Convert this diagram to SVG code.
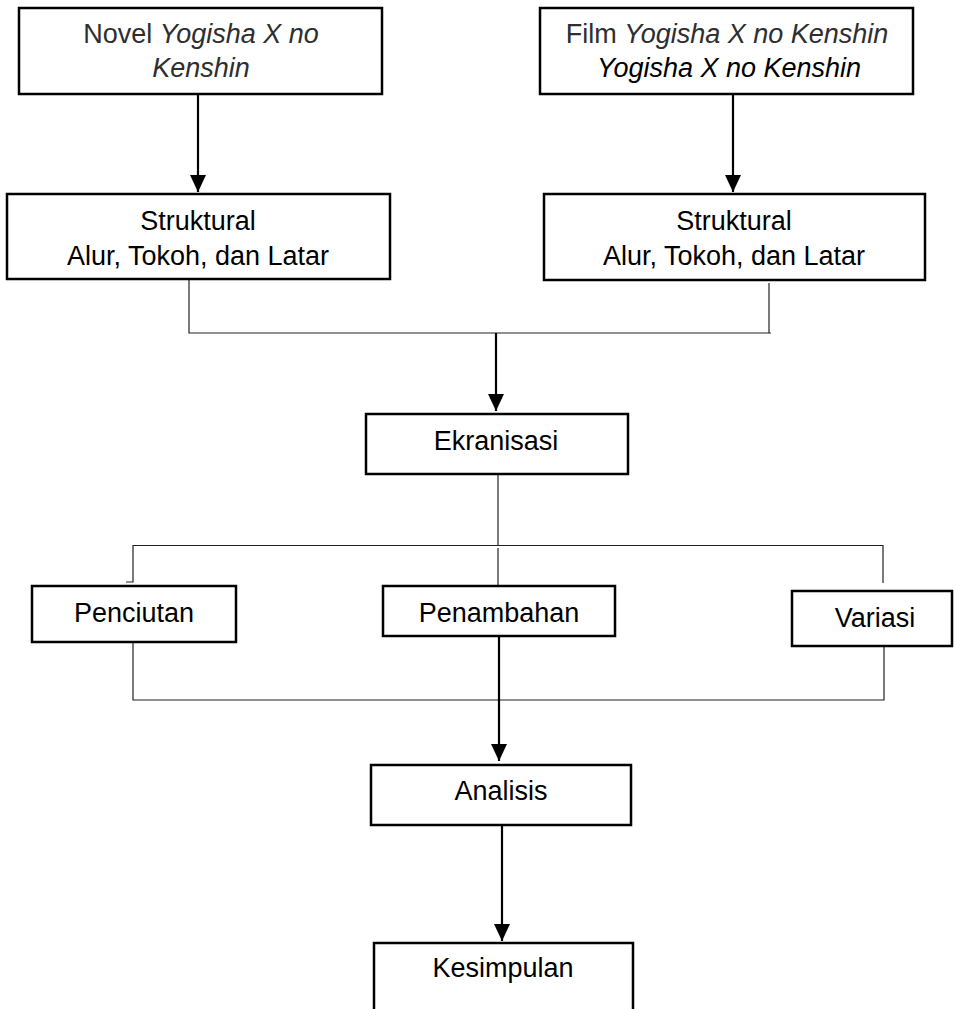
<svg xmlns="http://www.w3.org/2000/svg" width="954" height="1009" viewBox="0 0 954 1009">
<style>
.box{fill:#fff;stroke:#000;stroke-width:2.5}
.t{font-family:"Liberation Sans",Arial,sans-serif;font-size:27px;fill:#000;text-anchor:middle}
.g{fill:#2e2e2e}
.i{font-style:italic}
.thin{fill:none;stroke:#222;stroke-width:1.2}
.thick{fill:none;stroke:#000;stroke-width:2.2}
</style>
<defs>
<marker id="ah" markerUnits="userSpaceOnUse" markerWidth="17" markerHeight="16" refX="17" refY="8" orient="auto">
<path d="M0,0 L17,8 L0,16 z" fill="#000"/>
</marker>
</defs>
<rect width="954" height="1009" fill="#fff"/>
<g id="connectors">
<line class="thick" x1="198" y1="94" x2="198" y2="192" marker-end="url(#ah)"/>
<line class="thick" x1="733" y1="94" x2="733" y2="192" marker-end="url(#ah)"/>
<polyline class="thin" points="189,280 189,333 771,333"/>
<line class="thin" x1="769" y1="283" x2="769" y2="333"/>
<line class="thick" x1="496" y1="333" x2="496" y2="411" marker-end="url(#ah)"/>
<line class="thin" x1="498" y1="474" x2="498" y2="545"/>
<polyline class="thin" points="126,582 133,582 133,545.5 883,545.5 883,583"/>
<line class="thin" x1="498" y1="548" x2="498" y2="586"/>
<polyline class="thin" points="133,642 133,700 884,700 884,646"/>
<line class="thick" x1="499" y1="636" x2="499" y2="761" marker-end="url(#ah)"/>
<line class="thick" x1="502" y1="825" x2="502" y2="941" marker-end="url(#ah)"/>
</g>
<g id="novel">
<rect class="box" x="19" y="8" width="363" height="86"/>
<text class="t g" x="201" y="43">Novel <tspan class="i">Yogisha X no</tspan></text>
<text class="t g i" x="201" y="77">Kenshin</text>
</g>
<g id="film">
<rect class="box" x="540" y="8" width="373" height="86"/>
<text class="t g" x="727" y="43">Film <tspan class="i">Yogisha X no Kenshin</tspan></text>
<text class="t i" x="729" y="77">Yogisha X no Kenshin</text>
</g>
<g id="struktural1">
<rect class="box" x="7" y="194" width="383" height="85"/>
<text class="t" x="198" y="230">Struktural</text>
<text class="t" x="198" y="265">Alur, Tokoh, dan Latar</text>
</g>
<g id="struktural2">
<rect class="box" x="544" y="194" width="381" height="86"/>
<text class="t" x="734" y="230">Struktural</text>
<text class="t" x="734" y="265">Alur, Tokoh, dan Latar</text>
</g>
<g id="ekranisasi">
<rect class="box" x="366" y="414" width="262" height="60"/>
<text class="t" x="496" y="450">Ekranisasi</text>
</g>
<g id="penciutan">
<rect class="box" x="32" y="586" width="204" height="56"/>
<text class="t" x="134" y="622">Penciutan</text>
</g>
<g id="penambahan">
<rect class="box" x="383" y="586" width="232" height="50"/>
<text class="t" x="499" y="622">Penambahan</text>
</g>
<g id="variasi">
<rect class="box" x="792" y="591" width="160" height="55"/>
<text class="t" x="875" y="627">Variasi</text>
</g>
<g id="analisis">
<rect class="box" x="371" y="765" width="260" height="60"/>
<text class="t" x="501" y="800">Analisis</text>
</g>
<g id="kesimpulan">
<path class="box" d="M374,1012 L374,943 L633,943 L633,1012"/>
<text class="t" x="503" y="977">Kesimpulan</text>
</g>
</svg>
